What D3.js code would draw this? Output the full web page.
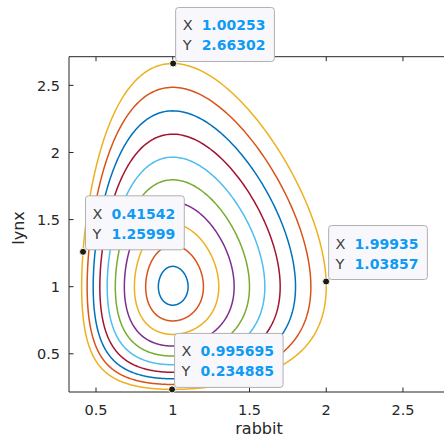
<!DOCTYPE html>
<html>
<head>
<meta charset="utf-8">
<script src="https://d3js.org/d3.v7.min.js"></script>
<style>
body { margin: 0; background: #fff; }
text { font-family: "DejaVu Sans", sans-serif; }
.tick-label { font-size: 14.5px; fill: #262626; }
.axis-label { font-size: 16px; fill: #262626; }
.tip-key { font-size: 14.5px; fill: #404040; }
.tip-val { font-size: 14px; fill: #0f9af5; font-weight: bold; }
</style>
</head>
<body>
<div id="chart"></div>
<script>
// initial conditions of each orbit (rabbit, lynx) and the rate ratio
var startRabbit = [1.1, 1.2, 1.3, 1.4, 1.5, 1.6, 1.7, 1.8, 1.9, 2.0];
var startLynx = 1;
var rateRatio = 2.2276;

// data tips
var tipX = [1.00253, 0.41542, 1.99935, 0.995695];
var tipY = [2.66302, 1.25999, 1.03857, 0.234885];
var tipXText = ["1.00253", "0.41542", "1.99935", "0.995695"];
var tipYText = ["2.66302", "1.25999", "1.03857", "0.234885"];

var xTicks = [0.5, 1, 1.5, 2, 2.5];
var yTicks = [0.5, 1, 1.5, 2, 2.5];
var colors = ["#0072BD", "#D95319", "#EDB120", "#7E2F8E", "#77AC30", "#4DBEEE", "#A2142F"];

var width = 444, height = 441;
var plotL = 69, plotR = 449, plotT = 56.7, plotB = 392;

var x = d3.scaleLinear().domain([0.324, 2.8]).range([plotL, plotR]);
var y = d3.scaleLinear().domain([0.2155, 2.7135]).range([plotB, plotT]);

var svg = d3.select("#chart").append("svg")
  .attr("width", width)
  .attr("height", height);

svg.append("defs").append("clipPath").attr("id", "clip")
  .append("rect")
  .attr("x", plotL).attr("y", plotT)
  .attr("width", plotR - plotL).attr("height", plotB - plotT);

// lotka-volterra orbit, rk4 until one full turn round (1,1)
function orbit(x0, y0) {
  function f(p) {
    return [p[0] * (1 - p[1]), rateRatio * p[1] * (p[0] - 1)];
  }
  var p = [x0, y0], pts = [p.slice()], dt = 0.002, turned = 0;
  var ang = Math.atan2(p[1] - 1, p[0] - 1);
  for (var i = 0; i < 20000; i++) {
    var k1 = f(p);
    var k2 = f([p[0] + dt / 2 * k1[0], p[1] + dt / 2 * k1[1]]);
    var k3 = f([p[0] + dt / 2 * k2[0], p[1] + dt / 2 * k2[1]]);
    var k4 = f([p[0] + dt * k3[0], p[1] + dt * k3[1]]);
    p = [p[0] + dt / 6 * (k1[0] + 2 * k2[0] + 2 * k3[0] + k4[0]),
         p[1] + dt / 6 * (k1[1] + 2 * k2[1] + 2 * k3[1] + k4[1])];
    var a = Math.atan2(p[1] - 1, p[0] - 1);
    var d = a - ang;
    if (d < -Math.PI) d += 2 * Math.PI;
    if (d > Math.PI) d -= 2 * Math.PI;
    turned += d;
    ang = a;
    if (turned >= 2 * Math.PI) break;
    if (i % 5 == 0) pts.push(p.slice());
  }
  pts.push([x0, y0]);
  return pts;
}

var line = d3.line()
  .x(function(d) { return x(d[0]); })
  .y(function(d) { return y(d[1]); });

var curves = svg.append("g").attr("clip-path", "url(#clip)");
startRabbit.forEach(function(x0, i) {
  curves.append("path")
    .attr("d", line(orbit(x0, startLynx)))
    .attr("fill", "none")
    .attr("stroke", colors[i % colors.length])
    .attr("stroke-width", 1.5);
});

// axes box
var axisColor = "#262626";
svg.append("line").attr("x1", plotL).attr("x2", plotR).attr("y1", plotB).attr("y2", plotB)
  .attr("stroke", axisColor).attr("stroke-width", 1);
svg.append("line").attr("x1", plotL).attr("x2", plotR).attr("y1", plotT).attr("y2", plotT)
  .attr("stroke", axisColor).attr("stroke-width", 1);
svg.append("line").attr("x1", plotL).attr("x2", plotL).attr("y1", plotT).attr("y2", plotB)
  .attr("stroke", axisColor).attr("stroke-width", 1);

xTicks.forEach(function(t) {
  svg.append("line").attr("x1", x(t)).attr("x2", x(t)).attr("y1", plotB).attr("y2", plotB - 4.5)
    .attr("stroke", axisColor);
  svg.append("line").attr("x1", x(t)).attr("x2", x(t)).attr("y1", plotT).attr("y2", plotT + 4.5)
    .attr("stroke", axisColor);
  svg.append("text").attr("class", "tick-label")
    .attr("x", x(t)).attr("y", 414.5)
    .attr("text-anchor", "middle")
    .text(t);
});

yTicks.forEach(function(t) {
  svg.append("line").attr("x1", plotL).attr("x2", plotL + 4.5).attr("y1", y(t)).attr("y2", y(t))
    .attr("stroke", axisColor);
  svg.append("text").attr("class", "tick-label")
    .attr("x", 60).attr("y", y(t))
    .attr("dy", "0.36em")
    .attr("text-anchor", "end")
    .text(t);
});

svg.append("text").attr("class", "axis-label")
  .attr("x", 259).attr("y", 434)
  .attr("text-anchor", "middle")
  .text("rabbit");

svg.append("text").attr("class", "axis-label")
  .attr("transform", "translate(24,228) rotate(-90)")
  .attr("text-anchor", "middle")
  .text("lynx");

// data tips
tipX.forEach(function(tx, i) {
  var px = x(tx), py = y(tipY[i]);
  var g = svg.append("g");
  var bx = px + 2.5, by = py - 56;
  var box = g.append("rect")
    .attr("x", bx).attr("y", by)
    .attr("height", 54)
    .attr("rx", 3)
    .attr("fill", "#f8f8fc")
    .attr("stroke", "#b0b0b0")
    .attr("stroke-width", 1);
  g.append("text").attr("class", "tip-key").attr("x", bx + 7).attr("y", by + 23).text("X");
  g.append("text").attr("class", "tip-key").attr("x", bx + 7).attr("y", by + 43).text("Y");
  var v1 = g.append("text").attr("class", "tip-val").attr("x", bx + 26).attr("y", by + 23).text(tipXText[i]);
  var v2 = g.append("text").attr("class", "tip-val").attr("x", bx + 26).attr("y", by + 43).text(tipYText[i]);
  var w = Math.max(v1.node().getComputedTextLength(), v2.node().getComputedTextLength());
  box.attr("width", w + 35);
  svg.append("circle")
    .attr("cx", px).attr("cy", py).attr("r", 3.5)
    .attr("fill", "#1a1a1a")
    .attr("stroke", "#fffbe0")
    .attr("stroke-width", 1);
});
</script>
</body>
</html>
